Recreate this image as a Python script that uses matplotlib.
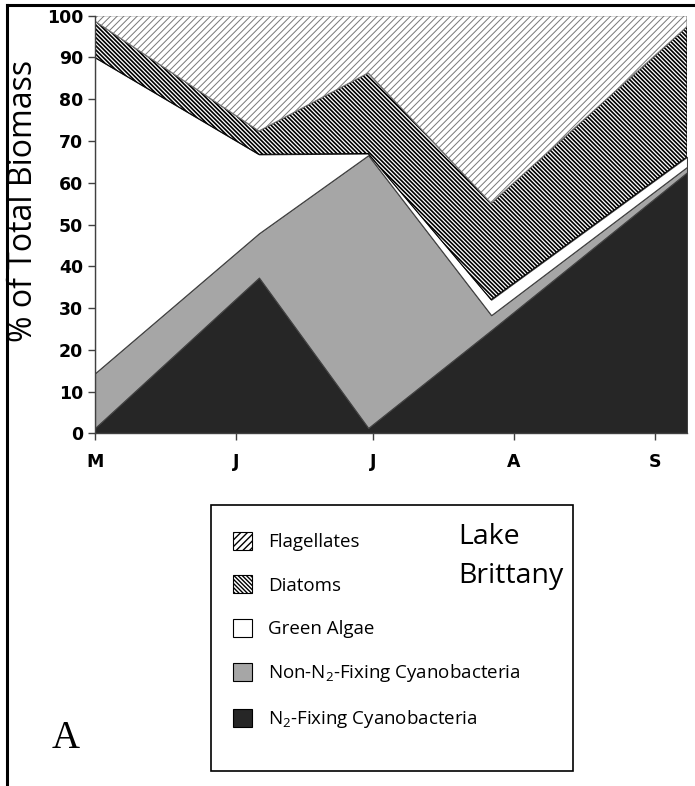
import matplotlib
matplotlib.use("Agg")
import matplotlib.pyplot as plt
from matplotlib.patches import Patch, Rectangle
from matplotlib.lines import Line2D

plt.rcParams['mathtext.fontset'] = 'custom'
plt.rcParams['mathtext.rm'] = 'Open Sans'
plt.rcParams['mathtext.it'] = 'Open Sans'

# sampling dates as days after 1 May
sample_days = [0, 36, 60, 87, 130]
month_days = [0, 31, 61, 92, 123]
month_labels = ['M', 'J', 'J', 'A', 'S']

# % of total biomass per group, bottom to top
n2_fixing = [1.3, 37.3, 1.3, 24.7, 62.5]
non_n2_fixing = [13.1, 10.6, 65.3, 3.6, 1.3]
green_algae = [75.6, 18.9, 0.4, 3.7, 2.4]
diatoms = [8.7, 5.6, 19.3, 23.1, 31.2]
flagellates = [1.3, 27.6, 13.7, 44.9, 2.6]

labels = ['N$_\\mathregular{2}$-Fixing Cyanobacteria',
          'Non-N$_\\mathregular{2}$-Fixing Cyanobacteria',
          'Green Algae', 'Diatoms', 'Flagellates']
colors = ['#262626', '#a6a6a6', 'white', 'white', 'white']
hatches = [None, None, None, '\\' * 8, '/' * 5]
hatch_colors = ['#404040', '#404040', '#404040', 'black', '#777777']
hatch_lws = [1.0, 1.0, 1.0, 1.2, 0.7]

fig = plt.figure(figsize=(6.95, 7.86), dpi=100)
ax = fig.add_axes([0.1367, 0.4487, 0.8518, 0.5313])

polys = ax.stackplot(sample_days, n2_fixing, non_n2_fixing, green_algae, diatoms, flagellates,
                     colors=colors, edgecolor='#404040', linewidth=0.8)
for p, h, hc, hl in zip(polys, hatches, hatch_colors, hatch_lws):
    if h:
        p.set_hatch(h)
        p.set_edgecolor(hc)
        if hasattr(p, 'set_hatch_linewidth'):
            p.set_hatch_linewidth(hl)
        p.set_linewidth(0.8)

ax.set_xlim(0, 130)
ax.set_ylim(0, 100)
ax.set_yticks(range(0, 101, 10))
ax.set_xticks(month_days)
ax.set_xticklabels(month_labels)
for s in ['top', 'right']:
    ax.spines[s].set_visible(False)
for s in ['left', 'bottom']:
    ax.spines[s].set_color('#404040')
    ax.spines[s].set_linewidth(1.0)
ax.tick_params(axis='both', direction='out', length=5, width=1, color='#404040', labelsize=12.5)
ax.tick_params(axis='x', pad=9)
for t in ax.get_xticklabels() + ax.get_yticklabels():
    t.set_fontweight('bold')
    t.set_family('DejaVu Sans')

fig.text(24 / 695, 1 - 201 / 786, '% of Total Biomass', rotation=90, family='Open Sans',
         fontsize=23, ha='center', va='center')

# legend box
fig.add_artist(Rectangle((211 / 695, 1 - 771 / 786), 362 / 695, 266 / 786,
                         transform=fig.transFigure, fill=False, edgecolor='black', linewidth=1.2))
handles = []
for i in [4, 3, 2, 1, 0]:
    handles.append(Patch(facecolor=colors[i], hatch=hatches[i], edgecolor='black', linewidth=0.8,
                         label=labels[i]))
leg = fig.legend(handles=handles, loc='upper left', bbox_to_anchor=(233 / 695, 1 - 532 / 786),
                 frameon=False, prop={'family': 'Open Sans', 'size': 13.5},
                 handlelength=1.0, handleheight=1.1, handletextpad=0.85, labelspacing=1.28,
                 borderpad=0, borderaxespad=0)
fig.text(458 / 695, 1 - 544 / 786, 'Lake', family='Open Sans', fontsize=20.5,
         ha='left', va='baseline')
fig.text(458 / 695, 1 - 583 / 786, 'Brittany', family='Open Sans', fontsize=20.5,
         ha='left', va='baseline')

fig.text(66 / 695, 1 - 739 / 786, 'A', family='Liberation Serif', fontsize=28,
         ha='center', va='center')

# outer panel frame
fig.add_artist(Line2D([7 / 695, 7 / 695], [0, 1 - 5 / 786], transform=fig.transFigure,
                      color='black', linewidth=2.2))
fig.add_artist(Line2D([7 / 695, 1], [1 - 5 / 786, 1 - 5 / 786], transform=fig.transFigure,
                      color='black', linewidth=2.2))

fig.savefig('out.png', dpi=100)
